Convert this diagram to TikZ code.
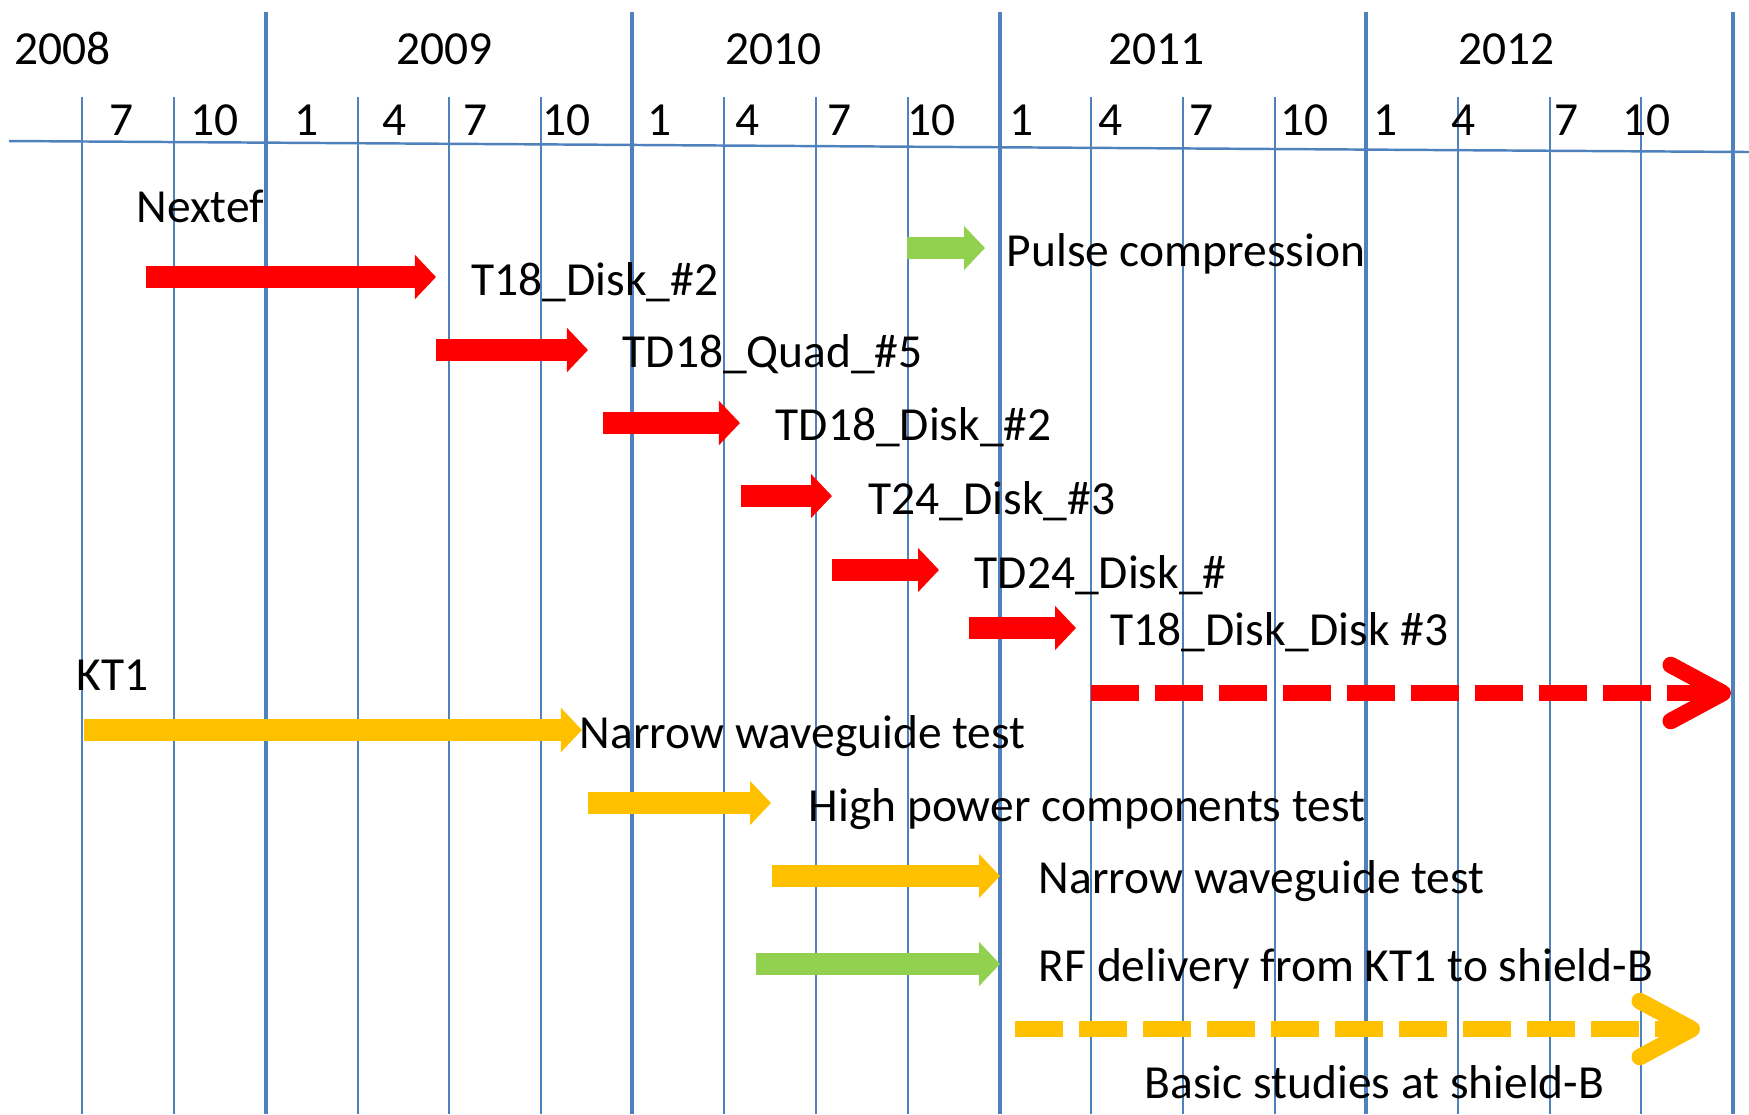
\documentclass[tikz,border=0pt]{standalone}
\usepackage{fontspec}
\setmainfont{Carlito}
\usepackage{xcolor}
\usetikzlibrary{arrows.meta}

\definecolor{gridblue}{HTML}{4F81BD}
\definecolor{barred}{HTML}{FF0000}
\definecolor{baryellow}{HTML}{FFC000}
\definecolor{bargreen}{HTML}{92D050}

\begin{document}
\begin{tikzpicture}[
        x=0.01cm, y=-0.01cm,
        font=\fontsize{13.5}{16}\selectfont,
        lbl/.style={anchor=base west, inner sep=0pt},
        gridthin/.style={draw=gridblue, line width=0.5pt},
        gridthick/.style={draw=gridblue, line width=1.4pt},
        bar/.style={line width=0.22cm, -{Triangle[width=0.43cm, length=0.21cm]}},
        plan/.style={line width=0.165cm, dash pattern=on 0.48cm off 0.16cm,
            -{Straight Barb[length=0.52cm, width=0.56cm, round]}}
    ]
    \useasboundingbox (0,0) rectangle (1749,1114);

    % GRID
    \draw[gridthin] (82,97) -- (82,1114) (174,97) -- (174,1114)
        (358,97) -- (358,1114) (449,97) -- (449,1114) (541,97) -- (541,1114)
        (724,97) -- (724,1114) (816,97) -- (816,1114) (908,97) -- (908,1114)
        (1091,97) -- (1091,1114) (1183,97) -- (1183,1114) (1275,97) -- (1275,1114)
        (1458,97) -- (1458,1114) (1550,97) -- (1550,1114) (1641,97) -- (1641,1114);
    \draw[gridthick] (266,12) -- (266,1114) (632,12) -- (632,1114)
        (1000,12) -- (1000,1114) (1366,12) -- (1366,1114) (1733,12) -- (1733,1114);
    \draw[gridthin, line width=0.7pt] (9,141) -- (1749,152);

    % YEARS
    \node[lbl] (y2008) at (14,64) {2008};
    \node[lbl] (y2009) at (396,64) {2009};
    \node[lbl] (y2010) at (725,64) {2010};
    \node[lbl] (y2011) at (1108,64) {2011};
    \node[lbl] (y2012) at (1458,64) {2012};

    % MONTHS
    \node[lbl] (m08g) at (109,135) {7};
    \node[lbl] (m08j) at (190,135) {10};
    \node[lbl] (m09a) at (294,135) {1};
    \node[lbl] (m09d) at (382,135) {4};
    \node[lbl] (m09g) at (463,135) {7};
    \node[lbl] (m09j) at (542,135) {10};
    \node[lbl] (m10a) at (647,135) {1};
    \node[lbl] (m10d) at (735,135) {4};
    \node[lbl] (m10g) at (827,135) {7};
    \node[lbl] (m10j) at (907,135) {10};
    \node[lbl] (m11a) at (1009,135) {1};
    \node[lbl] (m11d) at (1098,135) {4};
    \node[lbl] (m11g) at (1189,135) {7};
    \node[lbl] (m11j) at (1280,135) {10};
    \node[lbl] (m12a) at (1373,135) {1};
    \node[lbl] (m12d) at (1451,135) {4};
    \node[lbl] (m12g) at (1554,135) {7};
    \node[lbl] (m12j) at (1622,135) {10};

    % NEXTEF
    \node[lbl] (nextef) at (136,222) {Nextef};
    \coordinate (pulseS) at (907,248);  \coordinate (pulseE) at (985,248);
    \coordinate (t18aS) at (146,277);   \coordinate (t18aE) at (436,277);
    \coordinate (quadS) at (436,350);   \coordinate (quadE) at (588,350);
    \coordinate (td18S) at (603,423);   \coordinate (td18E) at (740,423);
    \coordinate (t24S) at (741,496);    \coordinate (t24E) at (832,496);
    \coordinate (td24S) at (832,570);   \coordinate (td24E) at (939,570);
    \coordinate (t18bS) at (969,628);   \coordinate (t18bE) at (1076,628);
    \coordinate (nextS) at (1091,693);  \coordinate (nextE) at (1731,693);

    \draw[bar, bargreen] (pulseS) -- (pulseE);
    \draw[bar, barred] (t18aS) -- (t18aE);
    \draw[bar, barred] (quadS) -- (quadE);
    \draw[bar, barred] (td18S) -- (td18E);
    \draw[bar, barred] (t24S) -- (t24E);
    \draw[bar, barred] (td24S) -- (td24E);
    \draw[bar, barred] (t18bS) -- (t18bE);
    \draw[plan, barred] (nextS) -- (nextE);

    \node[lbl] (pulse) at (1006,266) {Pulse compression};
    \node[lbl] (t18a) at (471,295) {T18\_Disk\_\#2};
    \node[lbl] (quad) at (622,367) {TD18\_Quad\_\#5};
    \node[lbl] (td18) at (775,440) {TD18\_Disk\_\#2};
    \node[lbl] (t24) at (868,514) {T24\_Disk\_\#3};
    \node[lbl] (td24) at (974,588) {TD24\_Disk\_\#};
    \node[lbl] (t18b) at (1110,645) {T18\_Disk\_Disk \#3};

    % KT1
    \node[lbl] (kt1) at (76,690) {KT1};
    \coordinate (nwgaS) at (84,730);    \coordinate (nwgaE) at (582,730);
    \coordinate (hpcS) at (588,803);    \coordinate (hpcE) at (771,803);
    \coordinate (nwgbS) at (772,876);   \coordinate (nwgbE) at (1000,876);
    \coordinate (rfS) at (756,964);     \coordinate (rfE) at (1000,964);
    \coordinate (basicS) at (1015,1029); \coordinate (basicE) at (1700,1029);

    \draw[bar, baryellow] (nwgaS) -- (nwgaE);
    \draw[bar, baryellow] (hpcS) -- (hpcE);
    \draw[bar, baryellow] (nwgbS) -- (nwgbE);
    \draw[bar, bargreen] (rfS) -- (rfE);
    \draw[plan, baryellow] (basicS) -- (basicE);

    \node[lbl] (nwga) at (579,748) {Narrow waveguide test};
    \node[lbl] (hpc) at (808,821) {High power components test};
    \node[lbl] (nwgb) at (1038,893) {Narrow waveguide test};
    \node[lbl] (rf) at (1038,981) {RF delivery from KT1 to shield-B};
    \node[lbl] (basic) at (1144,1098) {Basic studies at shield-B};

\end{tikzpicture}
\end{document}
